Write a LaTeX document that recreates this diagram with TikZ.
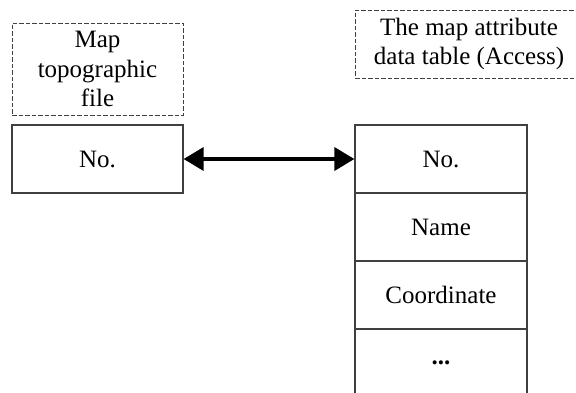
\documentclass[tikz,border=0pt]{standalone}
\usepackage{fontspec}
\setmainfont{Liberation Serif}
\usetikzlibrary{arrows.meta}
\begin{document}
\begin{tikzpicture}[x=1pt,y=-1pt,
  every node/.style={font=\fontsize{25}{29.5}\selectfont, text=black, inner sep=0pt, align=center},
  cell/.style={draw=black!75, line width=1.2pt, minimum width=172pt, minimum height=68pt},
  dbox/.style={draw=black!75, line width=0.9pt, dash pattern=on 4.5pt off 2pt},
  conn/.style={line width=3.5pt, {Triangle[length=20pt,width=23pt]}-{Triangle[length=20pt,width=23pt]}}
]
\useasboundingbox (0,0) rectangle (576,392);
\clip (0,0) rectangle (576,392);
% left dashed title
\node[dbox, minimum width=171pt, minimum height=92pt] (lt) at (97.5,69) {Map\\topographic\\file};
\node[cell, minimum width=171pt] (l1) at (97.5,159) {No.};
% right dashed title
\node[dbox, minimum width=228pt, minimum height=68pt] (rt) at (469,44) {The map attribute\\data table (Access)};
% right table
\node[cell] (r1) at (441,159) {No.};
\node[cell] (r2) at (441,227) {Name};
\node[cell] (r3) at (441,295) {Coordinate};
\node[cell] (r4) at (441,363) {\textbf{...}};
\draw[conn] (l1.east) -- (r1.west);
\end{tikzpicture}
\end{document}
